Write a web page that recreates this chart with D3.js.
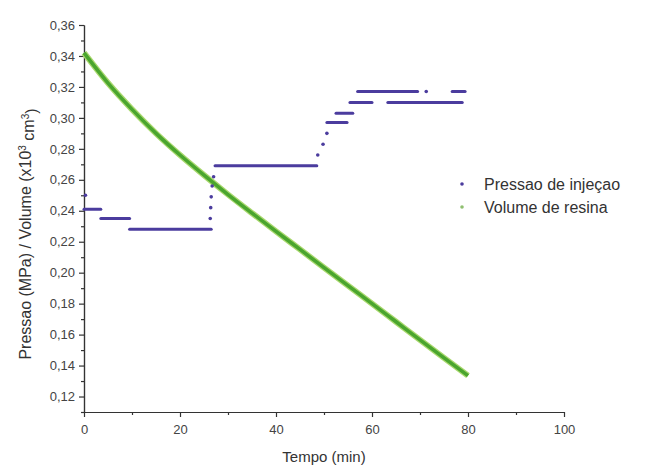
<!DOCTYPE html>
<html>
<head>
<meta charset="utf-8">
<script src="https://cdn.jsdelivr.net/npm/d3@7"></script>
<style>
  body { margin: 0; background: #fff; }
  svg { font-family: "Liberation Sans", Arial, sans-serif; }
</style>
</head>
<body>
<svg id="chart"></svg>
<script>
// curva do volume de resina (tempo em min, volume x10^3 cm^3)
const volumeTempo = [0, 5, 10, 15, 20, 25, 30, 35, 40, 45, 50, 55, 60, 65, 70, 75, 80];
const volumeValor = [0.342, 0.3225, 0.3055, 0.290, 0.276, 0.263, 0.2505, 0.2385, 0.2267, 0.215, 0.2033, 0.1916, 0.180, 0.1683, 0.1566, 0.145, 0.1335];

// patamares da pressao de injecao: inicio, fim, valor
const patamarInicio = [0, 3.5, 9.5, 27.3, 50.6, 52.5, 55.4, 63.3, 57.0, 76.7];
const patamarFim    = [3.5, 9.5, 26.5, 48.5, 54.8, 56.0, 60.0, 78.8, 69.5, 79.4];
const patamarValor  = [0.241, 0.235, 0.228, 0.269, 0.297, 0.303, 0.310, 0.310, 0.317, 0.317];

// pontos isolados da pressao
const pontoTempo = [0.3, 26.3, 26.4, 26.5, 26.7, 27.0, 48.7, 49.8, 50.6, 71.3];
const pontoValor = [0.250, 0.235, 0.242, 0.249, 0.256, 0.262, 0.276, 0.283, 0.290, 0.317];

const xTicks = [0, 20, 40, 60, 80, 100];
const xMinorTicks = [10, 30, 50, 70, 90];
const yTicks = [0.12, 0.14, 0.16, 0.18, 0.20, 0.22, 0.24, 0.26, 0.28, 0.30, 0.32, 0.34, 0.36];
const yMinorTicks = [0.11, 0.13, 0.15, 0.17, 0.19, 0.21, 0.23, 0.25, 0.27, 0.29, 0.31, 0.33, 0.35];
const legendas = ['Pressao de injeçao', 'Volume de resina'];

const width = 650, height = 467;
const padding = {top: 25, right: 86, bottom: 55, left: 84};
const roxo = '#4b3c9e', verde = '#4aa52e';

const svg = d3.select('#chart')
    .attr('width', width)
    .attr('height', height);

const xScale = d3.scaleLinear()
    .domain([0, 100])
    .range([padding.left, width - padding.right]);

const yScale = d3.scaleLinear()
    .domain([0.11, 0.36])
    .range([height - padding.bottom, padding.top]);

const virgula = d => d3.format('.2f')(d).replace('.', ',');

const xAxis = d3.axisBottom(xScale).tickValues(xTicks).tickFormat(d3.format('d')).tickSize(5).tickSizeOuter(0);
const xMinor = d3.axisBottom(xScale).tickValues(xMinorTicks).tickFormat('').tickSize(3).tickSizeOuter(0);
const yAxis = d3.axisLeft(yScale).tickValues(yTicks).tickFormat(virgula).tickSize(5).tickSizeOuter(0);
const yMinor = d3.axisLeft(yScale).tickValues(yMinorTicks).tickFormat('').tickSize(3).tickSizeOuter(0);

function estilo(g) {
    g.selectAll('path, line').attr('stroke', '#333').attr('stroke-width', 1.2);
    g.selectAll('text').attr('fill', '#444').style('font-size', '13px');
}

svg.append('g')
    .attr('transform', `translate(0, ${height - padding.bottom})`)
    .call(xMinor).call(estilo);
svg.append('g')
    .attr('transform', `translate(0, ${height - padding.bottom})`)
    .call(xAxis).call(estilo)
    .selectAll('text').attr('dy', '1.1em');

svg.append('g')
    .attr('transform', `translate(${padding.left}, 0)`)
    .call(yMinor).call(estilo);
svg.append('g')
    .attr('transform', `translate(${padding.left}, 0)`)
    .call(yAxis).call(estilo)
    .selectAll('text').attr('x', -9);

// curva verde (volume)
const linha = d3.line()
    .x((d, i) => xScale(volumeTempo[i]))
    .y(d => yScale(d))
    .curve(d3.curveMonotoneX);

svg.append('path')
    .attr('d', linha(volumeValor))
    .attr('fill', 'none')
    .attr('stroke', '#a9d86e')
    .attr('stroke-width', 6);
svg.append('path')
    .attr('d', linha(volumeValor))
    .attr('fill', 'none')
    .attr('stroke', verde)
    .attr('stroke-width', 3.5);

// pressao de injecao
svg.append('g').selectAll('line')
    .data(patamarValor)
    .enter()
    .append('line')
    .attr('x1', (d, i) => xScale(patamarInicio[i]))
    .attr('x2', (d, i) => xScale(patamarFim[i]))
    .attr('y1', d => yScale(d))
    .attr('y2', d => yScale(d))
    .attr('stroke', roxo)
    .attr('stroke-width', 3)
    .attr('stroke-linecap', 'round');

svg.append('g').selectAll('circle')
    .data(pontoValor)
    .enter()
    .append('circle')
    .attr('cx', (d, i) => xScale(pontoTempo[i]))
    .attr('cy', d => yScale(d))
    .attr('r', 1.8)
    .attr('fill', roxo);

// legenda
const legenda = svg.append('g').attr('transform', 'translate(462, 184)');
legendas.forEach((nome, i) => {
    legenda.append('circle')
        .attr('cx', 0).attr('cy', i * 23)
        .attr('r', 1.8)
        .attr('fill', i === 0 ? roxo : '#8fbf70');
    legenda.append('text')
        .attr('x', 22).attr('y', i * 23)
        .attr('dy', '0.35em')
        .attr('fill', '#333')
        .style('font-size', '16px')
        .text(nome);
});

// titulos dos eixos
svg.append('text')
    .attr('x', (padding.left + width - padding.right) / 2)
    .attr('y', height - 5)
    .attr('text-anchor', 'middle')
    .attr('fill', '#333')
    .style('font-size', '15px')
    .text('Tempo (min)');

const titY = svg.append('text')
    .attr('transform', `translate(31, 234) rotate(-90)`)
    .attr('text-anchor', 'middle')
    .attr('fill', '#333')
    .style('font-size', '16px');
titY.append('tspan').text('Pressao (MPa) / Volume (x10');
titY.append('tspan').attr('dy', '-0.5em').style('font-size', '10px').text('3');
titY.append('tspan').attr('dy', '0.5em').text(' cm');
titY.append('tspan').attr('dy', '-0.5em').style('font-size', '10px').text('3');
titY.append('tspan').attr('dy', '0.5em').text(')');
</script>
</body>
</html>
